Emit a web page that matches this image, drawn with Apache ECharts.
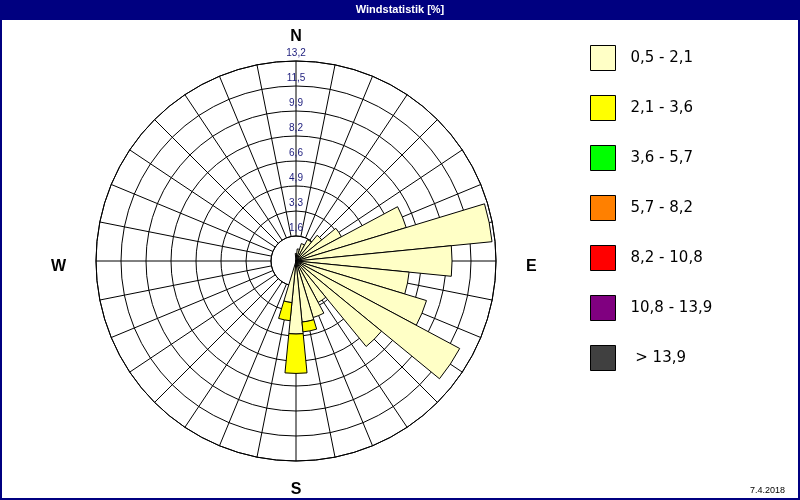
<!DOCTYPE html>
<html>
<head>
<meta charset="utf-8">
<script src="https://cdn.jsdelivr.net/npm/echarts@6/dist/echarts.min.js"></script>
<style>
html,body{margin:0;padding:0;background:#fff;}
#chart{width:800px;height:500px;}
</style>
</head>
<body>
<div id="chart"></div>
<script>
// 32 wind directions, clockwise from north
var directions = ['N','NzO','NNO','NOzN','NO','NOzO','ONO','OzN','O','OzS','OSO','SOzO','SO','SOzS','SSO','SzO',
                  'S','SzW','SSW','SWzS','SW','SWzW','WSW','WzS','W','WzN','WNW','NWzW','NW','NWzN','NNW','NzW'];
var compassLabels = {0:'N', 8:'E', 16:'S', 24:'W'};
// ring labels (percent)
var ringLabels = ['1,6','3,3','4,9','6,6','8,2','9,9','11,5','13,2'];
var ringStep = 1.65;
var ringMax = 13.2;
// speed classes
var classNames = ['0,5 - 2,1','2,1 - 3,6','3,6 - 5,7','5,7 - 8,2','8,2 - 10,8','10,8 - 13,9',' > 13,9'];
var classColors = ['#FFFFC6','#FFFF00','#00FF00','#FF8000','#FF0000','#800080','#404040'];
// frequency [%] per direction, class 0,5 - 2,1
var class1 = [0.5,0.8,1.2,1.6,2.2,3.4,7.6,13.0,10.3,7.5,9.0,12.25,7.3,3.1,3.9,4.05,
              4.82,2.76,'-','-','-','-','-','-','-','-','-','-','-','-','-','-'];
// class 2,1 - 3,6
var class2 = ['-','-','-','-','-','-','-','-','-','-','-','-','-','-','-',0.65,
              2.6,1.2,'-','-','-','-','-','-','-','-','-','-','-','-','-','-'];
var emptyClass = directions.map(function(){return '-';});
var classData = [class1, class2, emptyClass, emptyClass, emptyClass, emptyClass, emptyClass];

var chart = echarts.init(document.getElementById('chart'));
var series = classNames.map(function(name, i){
  return {
    name: name,
    type: 'bar',
    coordinateSystem: 'polar',
    polarIndex: 1,
    stack: 'wind',
    barCategoryGap: '0%',
    data: classData[i],
    itemStyle: {color: classColors[i], borderColor: '#000', borderWidth: 1},
    emphasis: {disabled: true},
    animation: false
  };
});

var dirFont = {fontSize:16, fontWeight:'bold', fontFamily:'Liberation Sans', color:'#000'};

var option = {
  animation: false,
  backgroundColor: '#fff',
  graphic: [
    {type:'rect', z:0, shape:{x:0,y:0,width:800,height:20}, style:{fill:'#000080'}},
    {type:'rect', z:0, shape:{x:1,y:1,width:798,height:498}, style:{fill:null, stroke:'#000080', lineWidth:2}}
  ],
  title: [
    {text:'Windstatistik [%]', left:'center', top:4, padding:0,
     textStyle:{color:'#fff', fontSize:11, fontWeight:'bold', fontFamily:'Liberation Sans'}},
    {text:'7.4.2018', right:15, bottom:5, padding:0,
     textStyle:{color:'#000', fontSize:9, fontWeight:'normal', fontFamily:'Liberation Sans'}}
  ],
  legend: {
    orient:'vertical', left:590, top:45, padding:0, itemWidth:25, itemHeight:25, itemGap:24,
    icon:'rect', selectedMode:false,
    itemStyle:{borderColor:'#000', borderWidth:1},
    textStyle:{fontSize:15, color:'#000', fontFamily:'DejaVu Sans', padding:[0,0,0,10]},
    data: classNames
  },
  polar: [
    {center:[296,261], radius:[25,200]},
    {center:[296,261], radius:[0,200]}
  ],
  angleAxis: [
    {polarIndex:0, type:'value', min:0, max:360, interval:11.25, startAngle:90, clockwise:true,
     axisLine:{show:true, lineStyle:{color:'#000', width:1}},
     axisTick:{show:false}, axisLabel:{show:false},
     splitLine:{show:true, lineStyle:{color:'#000', width:1}}},
    {polarIndex:1, type:'category', data:directions, startAngle:95.625, clockwise:true,
     axisLine:{show:false}, axisTick:{show:false}, splitLine:{show:false},
     axisLabel:{show:true, interval:0, margin:16, color:'#000',
       fontSize:16, fontWeight:'bold', fontFamily:'Liberation Sans',
       formatter:function(v, idx){
         var t = compassLabels[idx];
         if (!t) return '';
         return '{' + t.toLowerCase() + '|' + t + '}';
       },
       rich:{
         n: Object.assign({padding:[0,0,0,0]}, dirFont),
         s: Object.assign({padding:[5,0,0,0]}, dirFont),
         e: Object.assign({padding:[12,0,0,14]}, dirFont),
         w: Object.assign({padding:[12,14,0,0]}, dirFont)
       }}}
  ],
  radiusAxis: [
    {polarIndex:0, type:'value', min:ringStep, max:ringMax, interval:ringStep,
     axisLine:{show:false}, axisTick:{show:false},
     splitLine:{show:true, lineStyle:{color:'#000', width:1}},
     axisLabel:{show:true, margin:0, align:'center', verticalAlign:'bottom', padding:[0,0,3,0],
       fontSize:10, color:'#1c1c7c', fontFamily:'Liberation Sans',
       showMinLabel:true, showMaxLabel:true,
       formatter:function(v){
         var i = Math.round(v/ringStep) - 1;
         return ringLabels[i] || '';
       }}},
    {polarIndex:1, type:'value', min:0, max:ringMax, show:false,
     axisLine:{show:false}, axisTick:{show:false}, axisLabel:{show:false}, splitLine:{show:false}}
  ],
  series: series
};
chart.setOption(option);
</script>
</body>
</html>
